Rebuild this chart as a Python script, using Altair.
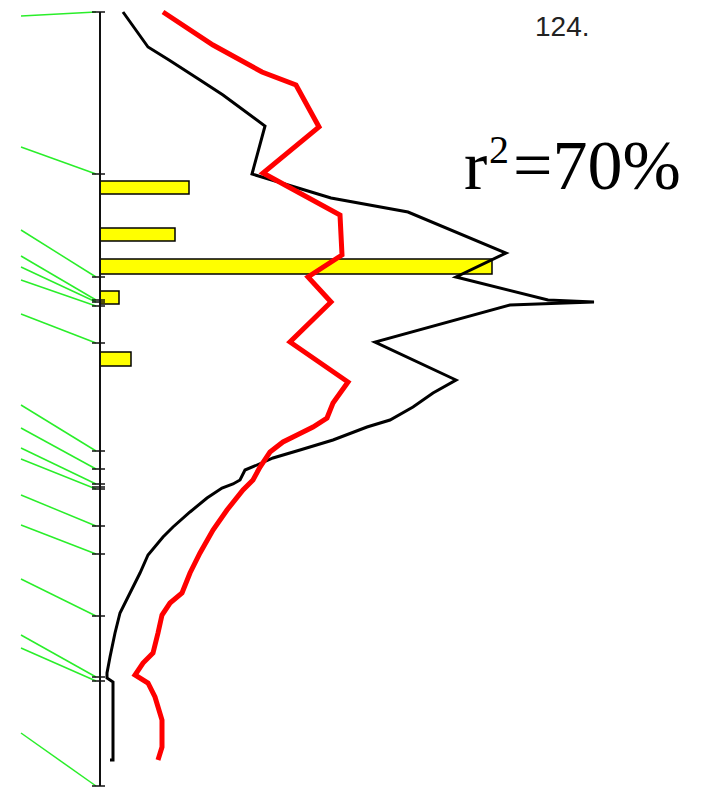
import altair as alt
import pandas as pd

# Depth (downward) and value (rightward from the axis)
black_value = [23, 48, 69, 100, 123, 165, 152, 231, 308, 406, 356, 448, 494, 465, 410, 275, 356,
               333, 313, 290, 267, 233, 200, 173, 157, 145, 140, 133, 122, 107, 90, 73, 63, 48,
               40, 30, 20, 15, 10, 7, 7, 13, 13, 10]
black_depth = [0, 35, 48, 68, 83, 114, 162, 186, 200, 241, 265, 288, 290, 291, 293, 330, 368,
               381, 395, 408, 415, 428, 438, 446, 453, 458, 468, 472, 476, 486, 500, 515, 525, 543,
               561, 581, 601, 621, 645, 661, 666, 670, 748, 748]

red_value = [63, 113, 162, 196, 219, 163, 240, 242, 208, 231, 190, 248, 233, 227, 213, 197, 183,
             170, 160, 153, 143, 127, 113, 100, 90, 82, 70, 62, 58, 53, 43, 35, 48, 55, 62, 62, 58]
red_depth = [0, 33, 60, 73, 115, 161, 203, 243, 265, 290, 330, 370, 391, 406, 415, 423, 430,
             440, 455, 468, 478, 498, 518, 541, 561, 581, 591, 603, 621, 641, 651, 663, 671, 685,
             708, 735, 748]

bar_top = [169, 216, 247, 279, 340]
bar_bottom = [182, 229, 262, 292, 354]
bar_value = [89, 75, 392, 19, 31]

tick_depth = [0, 162, 265, 288, 290, 294, 331, 439, 457, 472, 475, 477, 514, 542, 604, 665, 669, 774]

link_left_depth = [4, 135, 218, 244, 255, 268, 302, 393, 416, 436, 447, 483, 513, 567, 623, 636, 721]
link_right_depth = [0, 162, 265, 288, 290, 294, 331, 439, 457, 472, 477, 514, 542, 604, 665, 669, 774]

X = alt.Scale(domain=[-92, 598])
Y = alt.Scale(domain=[-4, 776], reverse=True)

black_df = pd.DataFrame({"v": black_value, "d": black_depth, "i": list(range(len(black_value)))})
red_df = pd.DataFrame({"v": red_value, "d": red_depth, "i": list(range(len(red_value)))})
bar_df = pd.DataFrame({"base": [0] * len(bar_value), "v": bar_value, "d1": bar_top, "d2": bar_bottom})
tick_df = pd.DataFrame({"x1": [-8] * len(tick_depth), "x2": [5] * len(tick_depth), "d": tick_depth})
link_df = pd.DataFrame({"x1": [-79] * len(link_left_depth), "x2": [-4] * len(link_left_depth),
                        "d1": link_left_depth, "d2": link_right_depth})
axis_df = pd.DataFrame({"x": [0], "d1": [0], "d2": [774]})

links = alt.Chart(link_df).mark_rule(color="#2aee2a", strokeWidth=1.5).encode(
    x=alt.X("x1:Q", scale=X, axis=None), x2="x2:Q",
    y=alt.Y("d1:Q", scale=Y, axis=None), y2="d2:Q")

bars = alt.Chart(bar_df).mark_bar(fill="#ffff00", stroke="#000000", strokeWidth=1.5).encode(
    x=alt.X("base:Q", scale=X, axis=None), x2="v:Q",
    y=alt.Y("d1:Q", scale=Y, axis=None), y2="d2:Q")

axis_line = alt.Chart(axis_df).mark_rule(color="#111111", strokeWidth=2).encode(
    x=alt.X("x:Q", scale=X, axis=None),
    y=alt.Y("d1:Q", scale=Y, axis=None), y2="d2:Q")

ticks = alt.Chart(tick_df).mark_rule(color="#111111", strokeWidth=1.5).encode(
    x=alt.X("x1:Q", scale=X, axis=None), x2="x2:Q",
    y=alt.Y("d:Q", scale=Y, axis=None))

black = alt.Chart(black_df).mark_line(color="#000000", strokeWidth=3).encode(
    x=alt.X("v:Q", scale=X, axis=None),
    y=alt.Y("d:Q", scale=Y, axis=None), order="i:Q")

red = alt.Chart(red_df).mark_line(color="#ff0000", strokeWidth=5).encode(
    x=alt.X("v:Q", scale=X, axis=None),
    y=alt.Y("d:Q", scale=Y, axis=None), order="i:Q")

label_df = pd.DataFrame({"t": ["124."], "x": [435], "d": [24]})
label = alt.Chart(label_df).mark_text(font="Liberation Sans", fontSize=28, color="#222222",
                                      align="left", baseline="alphabetic").encode(
    x=alt.X("x:Q", scale=X, axis=None), y=alt.Y("d:Q", scale=Y, axis=None), text="t:N")

r_df = pd.DataFrame({"t": ["r", "=70%"], "x": [364, 413], "d": [177, 177]})
r_text = alt.Chart(r_df).mark_text(font="Liberation Serif", fontSize=70, color="#000000",
                                   align="left", baseline="alphabetic").encode(
    x=alt.X("x:Q", scale=X, axis=None), y=alt.Y("d:Q", scale=Y, axis=None), text="t:N")

sup_df = pd.DataFrame({"t": ["2"], "x": [389], "d": [151]})
sup_text = alt.Chart(sup_df).mark_text(font="Liberation Serif", fontSize=40, color="#000000",
                                       align="left", baseline="alphabetic").encode(
    x=alt.X("x:Q", scale=X, axis=None), y=alt.Y("d:Q", scale=Y, axis=None), text="t:N")

chart = alt.layer(links, bars, axis_line, ticks, black, red, label, r_text, sup_text).properties(
    width=690, height=780,
    autosize=alt.AutoSizeParams(type="none"),
    padding=0,
    background="#ffffff",
).configure_view(strokeOpacity=0)

chart.save("out.html", embed_options={"renderer": "svg", "actions": False})
